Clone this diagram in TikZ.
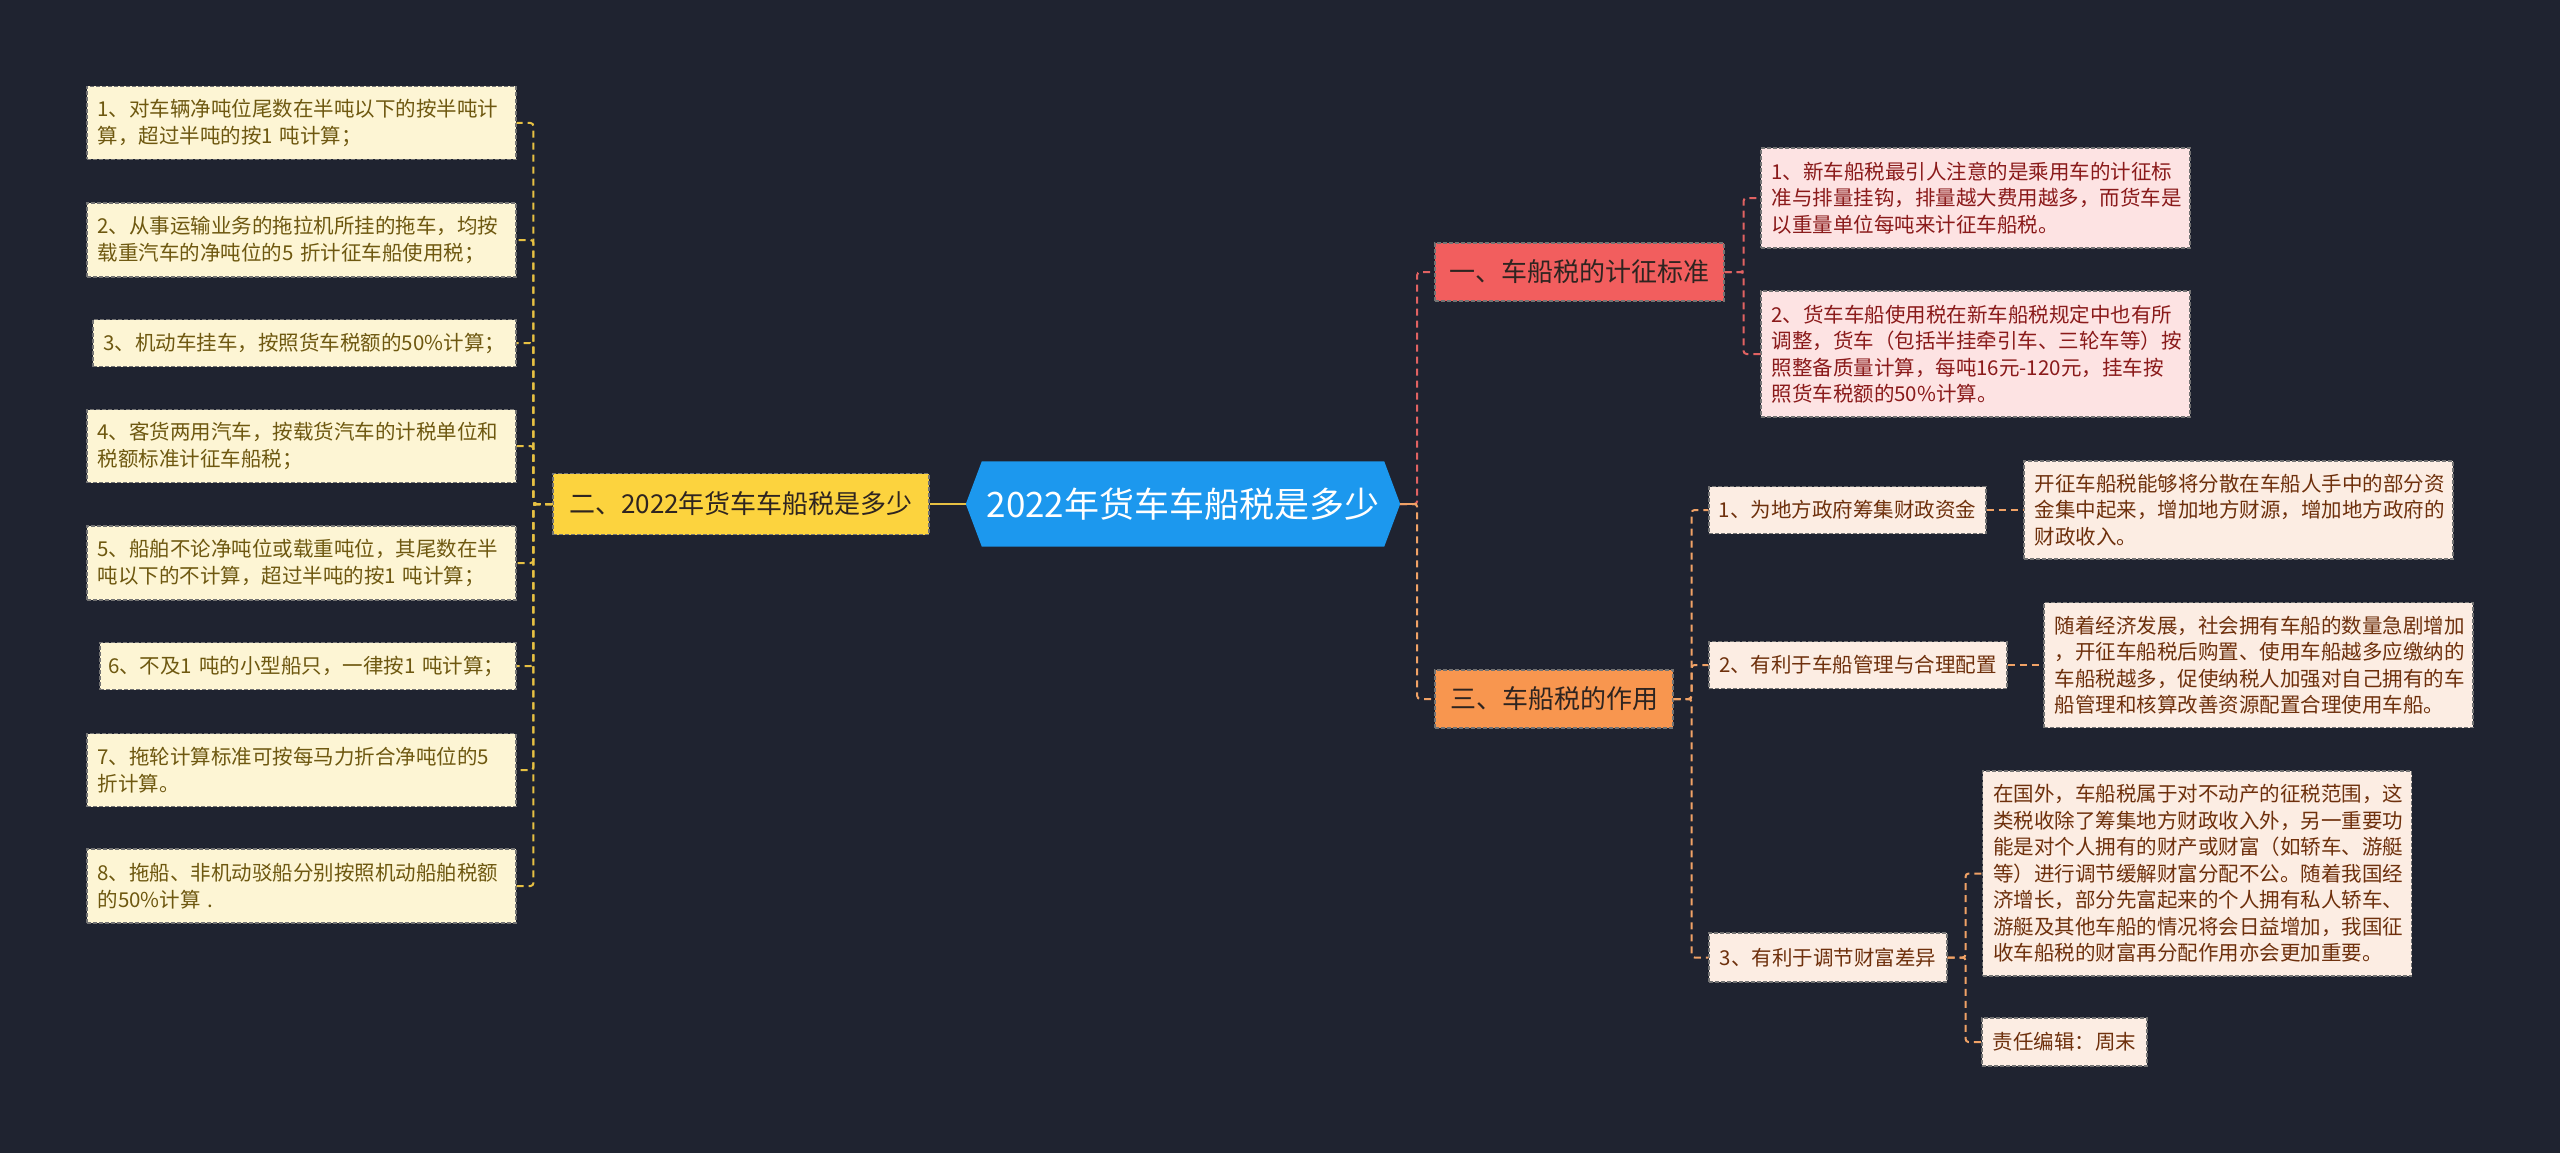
\documentclass[tikz,border=0pt]{standalone}
\usepackage{fontspec}
\setmainfont{Noto Sans CJK SC}
\usetikzlibrary{backgrounds}
\definecolor{bgc}{HTML}{1F2330}
\definecolor{rootblue}{HTML}{1C98EE}
\definecolor{ymain}{HTML}{FCD33E}
\definecolor{yleaf}{HTML}{FDF5D4}
\definecolor{ytext}{HTML}{6E5810}
\definecolor{yline}{HTML}{E6C043}
\definecolor{rmain}{HTML}{F25E5E}
\definecolor{rleaf}{HTML}{FDE3E3}
\definecolor{rtext}{HTML}{8A1A1A}
\definecolor{rline}{HTML}{E06262}
\definecolor{omain}{HTML}{F8964F}
\definecolor{oleaf}{HTML}{FCEDE3}
\definecolor{otext}{HTML}{6E300C}
\definecolor{oline}{HTML}{F0A266}
\definecolor{mtext}{HTML}{2E2420}
\newcommand\leaffnt{\fontsize{20.5}{26.5}\selectfont}
\newcommand\mainfnt{\fontsize{26}{30}\selectfont}
\begin{document}
\begin{tikzpicture}[x=1pt,y=-1pt,
  box/.style={rectangle, inner ysep=0pt, dash pattern=on 4pt off 2pt, line width=1.1pt, draw=black!55},
  leafY/.style={box, fill=yleaf, text=ytext, font=\leaffnt, align=left, inner xsep=10.5pt, text width=408pt},
  leafR/.style={box, fill=rleaf, text=rtext, font=\leaffnt, align=left, inner xsep=10.5pt, text width=408pt},
  leafO/.style={box, fill=oleaf, text=otext, font=\leaffnt, align=left, inner xsep=10.5pt, text width=408pt},
  subO/.style={box, fill=oleaf, text=otext, font=\leaffnt, inner xsep=0pt},
  mainbox/.style={box, text=mtext, font=\mainfnt, inner xsep=0pt, minimum height=58pt},
  conn/.style={dash pattern=on 7pt off 5pt, line width=2pt, rounded corners=3pt},
]
\useasboundingbox (0,0) rectangle (2560,1153);
\begin{scope}[on background layer]
\fill[bgc] (0,0) rectangle (2560,1153);
\end{scope}

% root
\node[minimum width=434pt, minimum height=85pt, inner sep=0pt, text=white, font=\fontsize{35}{40}\selectfont] (root) at (1183,504) {2022年货车车船税是多少};
\begin{scope}[on background layer]
\fill[rootblue] (root.west) -- ([xshift=16pt]root.north west) -- ([xshift=-16pt]root.north east) -- (root.east) -- ([xshift=-16pt]root.south east) -- ([xshift=16pt]root.south west) -- cycle;
\end{scope}

% left branch
\node[mainbox, fill=ymain, minimum width=376pt, minimum height=61pt] (lm) at (741,504) {二、2022年货车车船税是多少};

\node[leafY, minimum height=73pt] (l1) at (301.5,123) {1、对车辆净吨位尾数在半吨以下的按半吨计\\\mbox{算，超过半吨的按1 吨计算；}};
\node[leafY, minimum height=74pt] (l2) at (301.5,240) {2、从事运输业务的拖拉机所挂的拖车，均按\\\mbox{载重汽车的净吨位的5 折计征车船使用税；}};
\node[leafY, minimum height=47pt, text width=402pt] (l3) at (304.5,343) {3、机动车挂车，按照货车税额的50\%计算；};
\node[leafY, minimum height=73pt] (l4) at (301.5,446) {4、客货两用汽车，按载货汽车的计税单位和\\税额标准计征车船税；};
\node[leafY, minimum height=74pt] (l5) at (301.5,563) {5、船舶不论净吨位或载重吨位，其尾数在半\\\mbox{吨以下的不计算，超过半吨的按1 吨计算；}};
\node[leafY, minimum height=47pt, text width=400pt, inner xsep=8pt] (l6) at (308,666) {\mbox{6、不及1 吨的小型船只，一律按1 吨计算；}};
\node[leafY, minimum height=73pt] (l7) at (301.5,770) {7、拖轮计算标准可按每马力折合净吨位的5\\折计算。};
\node[leafY, minimum height=74pt] (l8) at (301.5,886) {8、拖船、非机动驳船分别按照机动船舶税额\\\mbox{的50\%计算 .}};

\draw[line width=2.5pt, yline] (root.west) -- (lm.east);
\foreach \n in {l1,l2,l3,l4,l5,l6,l7,l8}
  \draw[conn, yline] (lm.west) -- ++(-19,0) |- (\n.east);

% right branch: red
\node[mainbox, fill=rmain, minimum width=289pt] (rm) at (1579.5,272) {一、车船税的计征标准};
\node[leafR, minimum height=100pt] (r1) at (1975.5,198) {1、新车船税最引人注意的是乘用车的计征标\\准与排量挂钩，排量越大费用越多，而货车是\\以重量单位每吨来计征车船税。};
\node[leafR, minimum height=126pt] (r2) at (1975.5,354) {2、货车车船使用税在新车船税规定中也有所\\调整，货车（包括半挂牵引车、三轮车等）按\\照整备质量计算，每吨16元-120元，挂车按\\照货车税额的50\%计算。};

% right branch: orange
\node[mainbox, fill=omain, minimum width=238pt] (om) at (1554,699) {三、车船税的作用};
\node[subO, minimum width=277pt, minimum height=47pt] (o1) at (1847.5,510) {1、为地方政府筹集财政资金};
\node[subO, minimum width=298pt, minimum height=47pt] (o2) at (1858,665) {2、有利于车船管理与合理配置};
\node[subO, minimum width=238pt, minimum height=49pt] (o3) at (1828,957.5) {3、有利于调节财富差异};
\node[leafO, minimum height=98pt] (o1t) at (2238.5,510) {开征车船税能够将分散在车船人手中的部分资\\金集中起来，增加地方财源，增加地方政府的\\财政收入。};
\node[leafO, minimum height=125pt] (o2t) at (2258.5,665) {随着经济发展，社会拥有车船的数量急剧增加\\，开征车船税后购置、使用车船越多应缴纳的\\车船税越多，促使纳税人加强对自己拥有的车\\船管理和核算改善资源配置合理使用车船。};
\node[leafO, minimum height=205pt] (o3t) at (2197,873.5) {在国外，车船税属于对不动产的征税范围，这\\类税收除了筹集地方财政收入外，另一重要功\\能是对个人拥有的财产或财富（如轿车、游艇\\等）进行调节缓解财富分配不公。随着我国经\\济增长，部分先富起来的个人拥有私人轿车、\\游艇及其他车船的情况将会日益增加，我国征\\收车船税的财富再分配作用亦会更加重要。};
\node[subO, minimum width=165pt, minimum height=48pt] (o4) at (2064.5,1042) {责任编辑：周末};

% connectors right
\draw[conn, rline] (root.east) -- ++(17,0) |- (rm.west);
\draw[conn, oline] (root.east) -- ++(17,0) |- (om.west);
\draw[line width=2.5pt, oline] (root.east) -- ++(17,0);
\draw[conn, rline] (rm.east) -- ++(19,0) |- (r1.west);
\draw[conn, rline] (rm.east) -- ++(19,0) |- (r2.west);
\draw[conn, oline] (om.east) -- ++(18,0) |- (o1.west);
\draw[conn, oline] (om.east) -- ++(18,0) |- (o2.west);
\draw[conn, oline] (om.east) -- ++(18,0) |- (o3.west);
\draw[conn, oline] (o1.east) -- (o1t.west);
\draw[conn, oline] (o2.east) -- (o2t.west);
\draw[conn, oline] (o3.east) -- ++(18,0) |- (o3t.west);
\draw[conn, oline] (o3.east) -- ++(18,0) |- (o4.west);
\end{tikzpicture}
\end{document}
